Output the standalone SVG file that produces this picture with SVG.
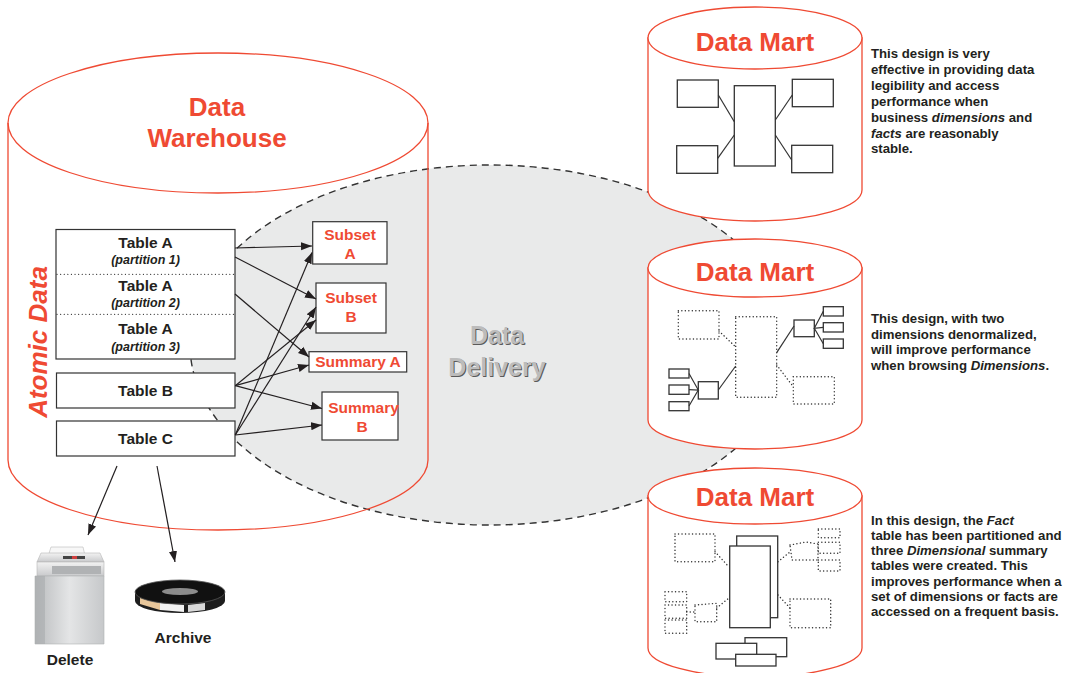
<svg xmlns="http://www.w3.org/2000/svg" width="1068" height="673" viewBox="0 0 1068 673">
  <style>
    .cyl { fill: none; stroke: #ef4a33; stroke-width: 1.3; }
    .cylw { fill: #ffffff; stroke: #ef4a33; stroke-width: 1.3; }
    .title { font-family: "Liberation Sans", Arial, sans-serif; font-weight: bold; fill: #ef4a33; text-anchor: middle; }
    .tbl { fill: #ffffff; stroke: #333333; stroke-width: 1.2; }
    .tt { font-family: "Liberation Sans", Arial, sans-serif; font-weight: bold; fill: #231f20; text-anchor: middle; font-size: 15.5px; }
    .part { font-family: "Liberation Sans", Arial, sans-serif; font-weight: bold; font-style: italic; fill: #231f20; text-anchor: middle; font-size: 12.5px; }
    .rt { font-family: "Liberation Sans", Arial, sans-serif; font-weight: bold; fill: #ef4a33; text-anchor: middle; font-size: 15.5px; }
    .note { font-family: "Liberation Sans", Arial, sans-serif; font-weight: bold; fill: #231f20; font-size: 13.2px; }
    .it { font-style: italic; }
    .conn { fill: none; stroke: #231f20; stroke-width: 1.2; marker-end: url(#ah); }
    .box { fill: #ffffff; stroke: #333333; stroke-width: 1.3; }
    .ln { fill: none; stroke: #333333; stroke-width: 1.2; }
    .dot { fill: none; stroke: #333333; stroke-width: 1.4; stroke-dasharray: 0.1 3.4; stroke-linecap: round; }
    .sep { fill: none; stroke: #333333; stroke-width: 1.2; stroke-dasharray: 0.1 3.5; stroke-linecap: round; }
  </style>
  <defs>
    <marker id="ah" viewBox="0 0 10 10" refX="10" refY="5" markerWidth="11" markerHeight="11" markerUnits="userSpaceOnUse" orient="auto">
      <path d="M0,1.3 L10,5 L0,8.7 z" fill="#231f20"/>
    </marker>
    <linearGradient id="shredBody" x1="0" y1="0" x2="1" y2="0">
      <stop offset="0" stop-color="#b9bbbd"/>
      <stop offset="0.5" stop-color="#e4e5e6"/>
      <stop offset="1" stop-color="#c6c8ca"/>
    </linearGradient>
    <linearGradient id="shredTop" x1="0" y1="0" x2="0" y2="1">
      <stop offset="0" stop-color="#f2f2f2"/>
      <stop offset="1" stop-color="#c9cacc"/>
    </linearGradient>
  </defs>

  <!-- data delivery zone -->
  <g id="data-delivery">
    <ellipse cx="490" cy="345" rx="300" ry="180" fill="#e9eaea" stroke="#333333" stroke-width="1.4" stroke-dasharray="7 5"/>
    <g font-family="'Liberation Sans', Arial, sans-serif" font-weight="bold" font-size="25px" text-anchor="middle">
      <text x="498" y="345" fill="#5a5a5a">Data</text>
      <text x="498" y="377" fill="#5a5a5a">Delivery</text>
      <text x="497" y="344" fill="#bcbcbc">Data</text>
      <text x="497" y="376" fill="#bcbcbc">Delivery</text>
    </g>
  </g>

  <!-- warehouse cylinder -->
  <g id="data-warehouse">
    <ellipse class="cyl" cx="218" cy="123" rx="210" ry="70"/>
    <path class="cyl" d="M8,123 L8,460 A210,70 0 0 0 428,460 L428,123"/>
    <text class="title" x="217" y="116" font-size="26px">Data</text>
    <text class="title" x="217" y="147" font-size="26px">Warehouse</text>
    <text class="title" transform="translate(47,342) rotate(-90)" font-size="26px" font-style="italic">Atomic Data</text>
  </g>

  <!-- source tables -->
  <g id="table-a">
    <rect class="tbl" x="56" y="229.5" width="179" height="129.5"/>
    <line class="sep" x1="57" y1="274.3" x2="234" y2="274.3"/>
    <line class="sep" x1="57" y1="314.3" x2="234" y2="314.3"/>
    <text class="tt" x="145.5" y="248">Table A</text>
    <text class="part" x="145.5" y="264">(partition 1)</text>
    <text class="tt" x="145.5" y="291">Table A</text>
    <text class="part" x="145.5" y="307">(partition 2)</text>
    <text class="tt" x="145.5" y="334">Table A</text>
    <text class="part" x="145.5" y="351">(partition 3)</text>
  </g>
  <g id="table-b">
    <rect class="tbl" x="56.5" y="373" width="178.5" height="35"/>
    <text class="tt" x="145.5" y="395.5">Table B</text>
  </g>
  <g id="table-c">
    <rect class="tbl" x="56.5" y="421" width="178.5" height="35"/>
    <text class="tt" x="145.5" y="443.5">Table C</text>
  </g>

  <!-- derived tables -->
  <g id="subset-a">
    <rect class="tbl" x="312.7" y="221.7" width="74.3" height="42.3"/>
    <text class="rt" x="350" y="240">Subset</text>
    <text class="rt" x="350" y="258.5">A</text>
  </g>
  <g id="subset-b">
    <rect class="tbl" x="316" y="283" width="70" height="50"/>
    <text class="rt" x="351" y="302.5">Subset</text>
    <text class="rt" x="351" y="321.5">B</text>
  </g>
  <g id="summary-a">
    <rect class="tbl" x="309" y="351.7" width="97.7" height="20.3"/>
    <text class="rt" x="358" y="367">Summary A</text>
  </g>
  <g id="summary-b">
    <rect class="tbl" x="322" y="392" width="76" height="48"/>
    <text class="rt" x="363.5" y="412.5">Summary</text>
    <text class="rt" x="362" y="431.5">B</text>
  </g>

  <!-- flows -->
  <g id="connectors">
    <line class="conn" x1="235" y1="248" x2="312" y2="246"/>
    <line class="conn" x1="235" y1="257" x2="316" y2="299"/>
    <line class="conn" x1="235" y1="294" x2="309" y2="357"/>
    <line class="conn" x1="235.3" y1="385.7" x2="316" y2="320"/>
    <line class="conn" x1="235.3" y1="385.7" x2="309" y2="365"/>
    <line class="conn" x1="235.3" y1="385.7" x2="322" y2="408.5"/>
    <line class="conn" x1="235.3" y1="435" x2="312" y2="252.5"/>
    <line class="conn" x1="235.3" y1="435" x2="316" y2="307"/>
    <line class="conn" x1="235.3" y1="435" x2="322" y2="425"/>
    <line class="conn" x1="117" y1="466" x2="88" y2="535"/>
    <line class="conn" x1="157" y1="466" x2="175" y2="562"/>
  </g>

  <!-- delete -->
  <g id="delete">
    <path d="M47,560 L51,547 L83,547 L86,560 z" fill="#f7f7f7" stroke="#c9c9c9" stroke-width="0.8"/>
    <path d="M37,562 L41,553 L100,553 L104,562 z" fill="url(#shredTop)" stroke="#b5b5b5" stroke-width="0.6"/>
    <rect x="63" y="556" width="22" height="3" fill="#444444"/>
    <rect x="72" y="556" width="5" height="3" fill="#d04040"/>
    <rect x="37" y="562" width="67" height="14" fill="url(#shredTop)" stroke="#b5b5b5" stroke-width="0.6"/>
    <rect x="52" y="566" width="49" height="8" fill="#b0b2b4"/>
    <path d="M35,576 L104,576 L104,644 L35,644 z" fill="url(#shredBody)" stroke="#b0b2b4" stroke-width="0.6"/>
    <rect x="35" y="576" width="10" height="68" fill="#a9abad" opacity="0.6"/>
    <text class="tt" x="70" y="665">Delete</text>
  </g>

  <!-- archive -->
  <g id="archive">
    <path d="M135,593 L135,601 A45,12 0 0 0 225,601 L225,593 z" fill="#1e1e1e"/>
    <path d="M140,604 L160,610 L160,603 L140,598 z" fill="#e9c79b"/>
    <path d="M160,610 L184,612 L184,605 L160,603 z" fill="#f2f2f2"/>
    <path d="M188,612 L205,610 L205,603 L188,605 z" fill="#d9d9d9"/>
    <ellipse cx="180" cy="592" rx="45" ry="12" fill="#111111" stroke="#555555" stroke-width="0.8"/>
    <ellipse cx="180" cy="591.5" rx="18" ry="3.5" fill="#8c8c8c"/>
    <text class="tt" x="183" y="642.5">Archive</text>
  </g>

  <!-- data mart 1 -->
  <g id="data-mart-1">
    <path class="cylw" d="M648,38 L648,190 A107,31 0 0 0 862,190 L862,38 z"/>
    <ellipse class="cylw" cx="755" cy="38" rx="107" ry="31"/>
    <text class="title" x="755" y="51" font-size="26px">Data Mart</text>
    <rect class="box" x="677.3" y="80" width="41" height="27.3"/>
    <rect class="box" x="676.7" y="145.7" width="41" height="27.6"/>
    <rect class="box" x="734.3" y="85.7" width="41" height="80.3"/>
    <rect class="box" x="792.3" y="79.3" width="41" height="27.4"/>
    <rect class="box" x="791.7" y="145.3" width="41" height="27.4"/>
    <line class="ln" x1="718.3" y1="95" x2="734.3" y2="121.7"/>
    <line class="ln" x1="717.7" y1="158.3" x2="734.3" y2="135"/>
    <line class="ln" x1="792.3" y1="95" x2="775.3" y2="120"/>
    <line class="ln" x1="791.7" y1="160" x2="775.3" y2="135"/>
  </g>
  <g id="note-1">
    <text class="note" x="871" y="57.5">This design is very</text>
    <text class="note" x="871" y="73.5">effective in providing data</text>
    <text class="note" x="871" y="89.5">legibility and access</text>
    <text class="note" x="871" y="105.5">performance when</text>
    <text class="note" x="871" y="121.5">business <tspan class="it">dimensions</tspan> and</text>
    <text class="note" x="871" y="137.5"><tspan class="it">facts</tspan> are reasonably</text>
    <text class="note" x="871" y="153">stable.</text>
  </g>

  <!-- data mart 2 -->
  <g id="data-mart-2">
    <path class="cylw" d="M648,268 L648,420 A107,29 0 0 0 862,420 L862,268 z"/>
    <ellipse class="cylw" cx="755" cy="268" rx="107" ry="29"/>
    <text class="title" x="755" y="281" font-size="26px">Data Mart</text>
    <rect class="dot" x="678.3" y="310.7" width="40.7" height="28.3"/>
    <rect class="dot" x="735.7" y="316.7" width="41" height="80.6"/>
    <rect class="dot" x="793.3" y="376.7" width="41" height="27.3"/>
    <line class="dot" x1="719" y1="331" x2="735.7" y2="347"/>
    <line class="dot" x1="776.7" y1="365" x2="793.3" y2="386.7"/>
    <rect class="box" x="794" y="320" width="20.3" height="16.7"/>
    <line class="ln" x1="776.7" y1="352.7" x2="794" y2="326"/>
    <rect class="box" x="823.3" y="306.7" width="20" height="9.3"/>
    <rect class="box" x="823.3" y="322.7" width="20" height="9.3"/>
    <rect class="box" x="823.3" y="339" width="20" height="9.3"/>
    <path class="ln" d="M823.3,311.3 L814.3,328.3 L823.3,327.3 M814.3,328.3 L823.3,343.7"/>
    <rect class="box" x="698.3" y="381.7" width="20" height="17.3"/>
    <line class="ln" x1="718.3" y1="390" x2="735.7" y2="366"/>
    <rect class="box" x="669" y="369" width="20" height="9"/>
    <rect class="box" x="669" y="385" width="20" height="9.3"/>
    <rect class="box" x="669" y="401.7" width="20" height="9"/>
    <path class="ln" d="M689,373.5 L698.3,390 L689,389.7 M698.3,390 L689,406"/>
  </g>
  <g id="note-2">
    <text class="note" x="871" y="323">This design, with two</text>
    <text class="note" x="871" y="338.5">dimensions denormalized,</text>
    <text class="note" x="871" y="354">will improve performance</text>
    <text class="note" x="871" y="369.5">when browsing <tspan class="it">Dimensions</tspan>.</text>
  </g>

  <!-- data mart 3 -->
  <g id="data-mart-3">
    <path class="cylw" d="M648,496 L648,648 A107,29 0 0 0 862,648 L862,496 z"/>
    <ellipse class="cylw" cx="755" cy="496" rx="107" ry="28"/>
    <text class="title" x="755" y="506" font-size="26px">Data Mart</text>
    <rect class="dot" x="675" y="534" width="40" height="27.7"/>
    <line class="dot" x1="715" y1="551.7" x2="729" y2="567"/>
    <rect class="box" x="736.7" y="536" width="41" height="81.7"/>
    <rect class="box" x="729.7" y="546" width="40.6" height="81.7"/>
    <path class="dot" d="M790,545 L806,542 L818,544 L818,560 L792,560 z"/>
    <line class="dot" x1="778" y1="561.7" x2="790" y2="552"/>
    <rect class="dot" x="818.3" y="529" width="21.7" height="8.7"/>
    <rect class="dot" x="818.3" y="542.3" width="21.7" height="11"/>
    <rect class="dot" x="818.3" y="560" width="21.7" height="11"/>
    <rect class="dot" x="665" y="591.7" width="21.7" height="10"/>
    <rect class="dot" x="665" y="605" width="21.7" height="13.3"/>
    <rect class="dot" x="665" y="620" width="21.7" height="13.3"/>
    <path class="dot" d="M695,605 L716.7,603.3 L716.7,621.7 L695,621.7 z"/>
    <line class="dot" x1="716.7" y1="608" x2="729" y2="598"/>
    <line class="dot" x1="686.7" y1="612" x2="695" y2="612"/>
    <rect class="dot" x="790" y="599" width="40.7" height="28.7"/>
    <line class="dot" x1="778" y1="595" x2="790" y2="608"/>
    <rect class="box" x="745" y="637.7" width="41.7" height="19"/>
    <rect class="box" x="716" y="643.3" width="40.7" height="15.7"/>
    <rect class="box" x="735.7" y="654.3" width="40.3" height="11.7"/>
  </g>
  <g id="note-3">
    <text class="note" x="871" y="525">In this design, the <tspan class="it">Fact</tspan></text>
    <text class="note" x="871" y="540">table has been partitioned and</text>
    <text class="note" x="871" y="555">three <tspan class="it">Dimensional</tspan> summary</text>
    <text class="note" x="871" y="570">tables were created. This</text>
    <text class="note" x="871" y="585.5">improves performance when a</text>
    <text class="note" x="871" y="600.5">set of dimensions or facts are</text>
    <text class="note" x="871" y="615.5">accessed on a frequent basis.</text>
  </g>
</svg>
